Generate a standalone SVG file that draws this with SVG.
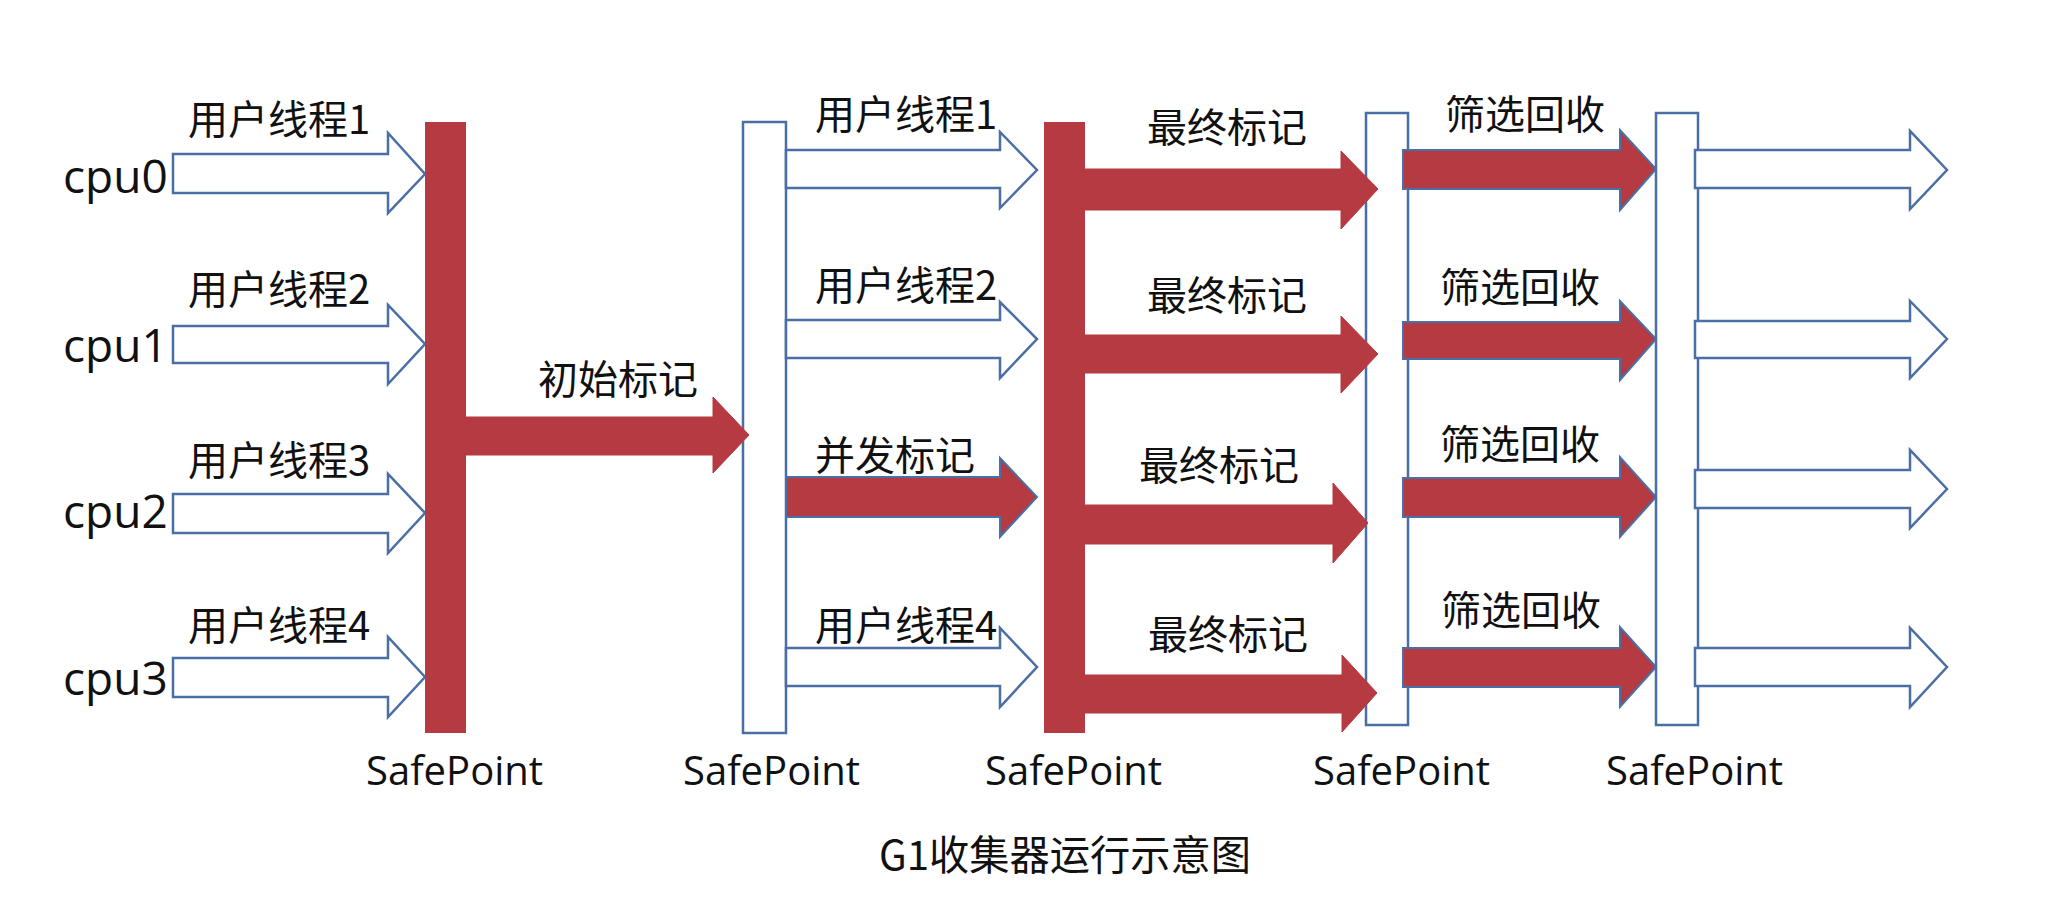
<svg xmlns="http://www.w3.org/2000/svg" width="2049" height="917" viewBox="0 0 2049 917">
<style>
.bg{fill:#ffffff}
.rbar{fill:#B53A41}
.wbar{fill:#ffffff;stroke:#4A6FA5;stroke-width:2.5}
.warrow{fill:#ffffff;stroke:#4A6FA5;stroke-width:2.5;stroke-linejoin:miter}
.rarrow{fill:#B53A41;stroke:#B53A41;stroke-width:1}
.rarrowb{fill:#B53A41;stroke:#4A6FA5;stroke-width:2}
.cjk{font-family:"Noto Sans CJK SC","Noto Sans",sans-serif;font-size:40px;fill:#111111}
.lat{font-family:"Open Sans","Liberation Sans",sans-serif;font-size:40px;fill:#111111}
.cpu{font-family:"Open Sans","Liberation Sans",sans-serif;font-size:46px;fill:#111111}
.title{font-family:"Noto Sans CJK SC","Noto Sans",sans-serif;font-size:41px;fill:#111111}
</style>
<rect class="bg" x="0" y="0" width="2049" height="917"/>

<g id="connectors">
  <!-- cpu user thread arrows -->
  <polygon class="warrow" points="173,154 388,154 388,133 425,174 388,213 388,193 173,193"/>
  <polygon class="warrow" points="173,326 388,326 388,305 425,344 388,384 388,363 173,363"/>
  <polygon class="warrow" points="173,494 388,494 388,474 425,513 388,553 388,533 173,533"/>
  <polygon class="warrow" points="173,658 388,658 388,637 425,677 388,717 388,697 173,697"/>
</g>

<g id="safepoint1"><rect class="rbar" x="425" y="122" width="41" height="611"/></g>
<g id="safepoint2"><rect class="wbar" x="743" y="122" width="43" height="611"/></g>
<g id="safepoint3"><rect class="rbar" x="1044" y="122" width="41" height="611"/></g>
<g id="safepoint4"><rect class="wbar" x="1366" y="113" width="42" height="612"/></g>
<g id="safepoint5"><rect class="wbar" x="1656" y="113" width="42" height="612"/></g>

<g id="connectors2">
  <!-- initial mark -->
  <polygon class="rarrow" points="462,417 713,417 713,397 749,435 713,473 713,455 462,455"/>
  <!-- middle -->
  <polygon class="warrow" points="786,150 1000,150 1000,132 1037,170 1000,208 1000,188 786,188"/>
  <polygon class="warrow" points="786,320 1000,320 1000,302 1037,339 1000,378 1000,358 786,358"/>
  <polygon class="rarrowb" points="786,477 1000,477 1000,458 1037,497 1000,537 1000,517 786,517"/>
  <polygon class="warrow" points="786,648 1000,648 1000,628 1037,667 1000,707 1000,686 786,686"/>
  <!-- final mark -->
  <polygon class="rarrow" points="1082,169 1341,169 1341,151 1378,189 1341,229 1341,210 1082,210"/>
  <polygon class="rarrow" points="1082,335 1341,335 1341,316 1378,354 1341,393 1341,373 1082,373"/>
  <polygon class="rarrow" points="1082,505 1333,505 1333,483 1368,523 1333,563 1333,544 1082,544"/>
  <polygon class="rarrow" points="1082,675 1342,675 1342,655 1377,693 1342,732 1342,713 1082,713"/>
  <!-- cleanup -->
  <polygon class="rarrowb" points="1403,150 1620,150 1620,130 1656,169 1620,210 1620,189 1403,189"/>
  <polygon class="rarrowb" points="1403,322 1620,322 1620,301 1656,339 1620,380 1620,359 1403,359"/>
  <polygon class="rarrowb" points="1403,478 1620,478 1620,457 1656,497 1620,537 1620,517 1403,517"/>
  <polygon class="rarrowb" points="1403,648 1620,648 1620,627 1656,667 1620,707 1620,687 1403,687"/>
  <!-- after -->
  <polygon class="warrow" points="1695,150 1910,150 1910,131 1947,170 1910,209 1910,188 1695,188"/>
  <polygon class="warrow" points="1695,321 1910,321 1910,301 1947,339 1910,378 1910,358 1695,358"/>
  <polygon class="warrow" points="1695,470 1910,470 1910,450 1947,489 1910,528 1910,508 1695,508"/>
  <polygon class="warrow" points="1695,648 1910,648 1910,628 1947,667 1910,707 1910,686 1695,686"/>
</g>

<g id="labels">
  <text class="cpu" x="63" y="193">cpu0</text>
  <text class="cpu" x="63" y="362">cpu1</text>
  <text class="cpu" x="63" y="528">cpu2</text>
  <text class="cpu" x="63" y="695">cpu3</text>

  <text class="cjk" x="188" y="134">用户线程1</text>
  <text class="cjk" x="188" y="304">用户线程2</text>
  <text class="cjk" x="188" y="475">用户线程3</text>
  <text class="cjk" x="188" y="640">用户线程4</text>

  <text class="cjk" x="538" y="394">初始标记</text>

  <text class="cjk" x="815" y="129">用户线程1</text>
  <text class="cjk" x="815" y="300">用户线程2</text>
  <text class="cjk" x="815" y="470">并发标记</text>
  <text class="cjk" x="815" y="640">用户线程4</text>

  <text class="cjk" x="1147" y="142">最终标记</text>
  <text class="cjk" x="1147" y="310">最终标记</text>
  <text class="cjk" x="1139" y="480">最终标记</text>
  <text class="cjk" x="1148" y="649">最终标记</text>

  <text class="cjk" x="1445" y="129">筛选回收</text>
  <text class="cjk" x="1440" y="302">筛选回收</text>
  <text class="cjk" x="1440" y="459">筛选回收</text>
  <text class="cjk" x="1441" y="625">筛选回收</text>

  <text class="lat" x="366" y="785">SafePoint</text>
  <text class="lat" x="683" y="785">SafePoint</text>
  <text class="lat" x="985" y="785">SafePoint</text>
  <text class="lat" x="1313" y="785">SafePoint</text>
  <text class="lat" x="1606" y="785">SafePoint</text>

  <text class="title" x="879" y="870" textLength="372" lengthAdjust="spacingAndGlyphs">G1收集器运行示意图</text>
</g>
</svg>
